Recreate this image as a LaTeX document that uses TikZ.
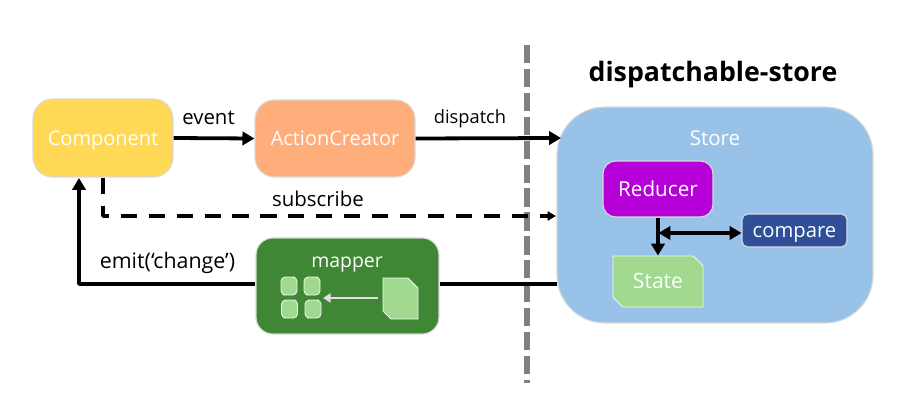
\documentclass[tikz,border=0pt]{standalone}
\usepackage{fontspec}
\setmainfont{Open Sans}
\usetikzlibrary{shapes.misc,arrows.meta}
\definecolor{compcol}{HTML}{FFD955}
\definecolor{actioncol}{HTML}{FFAD7A}
\definecolor{storecol}{HTML}{99C2E8}
\definecolor{reducercol}{HTML}{B500D8}
\definecolor{comparecol}{HTML}{2F5099}
\definecolor{statecol}{HTML}{A0D98F}
\definecolor{mappercol}{HTML}{3F8734}
\tikzset{
    box/.style={draw=black!15, line width=.8pt, rounded corners=14pt, text=white, inner sep=0pt, text height=13pt, text depth=3pt, font=\fontsize{14.2}{16}\selectfont},
    flow/.style={->, line width=2.7pt},
    lbl/.style={inner sep=0pt, font=\fontsize{14.5}{17}\selectfont},
    doc/.style={draw=white!85!statecol, fill=statecol, line width=.6pt},
}
\begin{document}
\begin{tikzpicture}[>={Stealth[inset=0pt,length=8.5pt,width=9.5pt]}, x=.025cm, y=-.025cm, line join=round]
    \useasboundingbox (0,0) rectangle (908,414);
    \draw[line width=4.3pt, black!50, dash pattern=on 13pt off 4pt] (527,45)--(527,383);
    % boxes
    \node[box, fill=compcol, minimum width=99.5pt, minimum height=55.5pt] (comp) at (103,138) {Component};
    \node[box, fill=actioncol, minimum width=113.8pt, minimum height=54.8pt] (action) at (335,138.5) {ActionCreator};
    \node[box, fill=storecol, rounded corners=34pt, minimum width=224.7pt, minimum height=153.6pt] (store) at (715,215) {};
    \node[box, fill=reducercol, rounded corners=9pt, minimum width=78.2pt, minimum height=39.8pt, font=\fontsize{14.7}{16}\selectfont] (reducer) at (658,189) {Reducer};
    \node[box, fill=comparecol, rounded corners=4pt, minimum width=74.6pt, minimum height=23.4pt, font=\fontsize{14.4}{16}\selectfont] (compare) at (794.5,230.5) {compare};
    \node[chamfered rectangle, chamfered rectangle corners={north east,south west}, doc, text=white, inner sep=0pt, text height=13pt, text depth=3pt, minimum width=64pt, minimum height=36.3pt, chamfered rectangle xsep=3.5pt, chamfered rectangle ysep=3.5pt, font=\fontsize{15}{16}\selectfont] (state) at (658,281.5) {State};
    \node[box, fill=mappercol, rounded corners=12pt, minimum width=130.1pt, minimum height=68.3pt] (mapper) at (347.5,286) {};
    \node[text=white, inner sep=0pt, text height=13pt, text depth=3pt, font=\fontsize{13.8}{16}\selectfont] (mapperlbl) at (347,260) {mapper};
    % mapper icons
    \draw[doc] (383,278) -- (408,278) -- (418,288) -- (418,319) -- (391,319) -- (383,311) -- cycle;
    \foreach \px/\py in {281/277,304/277,281.5/300,305/300}
    \draw[doc, rounded corners=1pt] (\px,\py) -- (\px+12,\py) [rounded corners=3pt] -- (\px+16,\py) -- (\px+16,\py+18) [rounded corners=1pt] -- (\px+4,\py+18) [rounded corners=3pt] -- (\px,\py+18) -- cycle;
    % free ends
    \coordinate (storein) at (561,138);
    \coordinate (storesub) at (556,216);
    \coordinate (storeout) at (557,284);
    \coordinate (compin) at (79,178);
    \coordinate (mapperin) at (378,298);
    \coordinate (pieces) at (323,298);
    % connectors
    \draw[flow] (comp.east) -- (action.west);
    \draw[flow] (action.east) -- (storein);
    \draw[flow, dash pattern=on 11.4pt off 8.5pt, -{Stealth[inset=0pt,length=6pt,width=6.5pt]}] (comp.south) |- (storesub);
    \draw[line width=2.7pt] (storeout) -- (mapper.east |- storeout);
    \draw[flow] (mapper.west |- storeout) -| (compin);
    \draw[flow] (reducer.south) -- (state.north);
    \draw[<->, line width=2.7pt] (658.5,233) -- (compare.west |- 658.5,233);
    \draw[-{Stealth[inset=0pt,length=5.5pt,width=6.5pt]}, line width=1.6pt, white!88!black] (mapperin) -- (pieces);
    % labels
    \node[lbl] (eventlbl) at (208.5,118) {event};
    \node[lbl, font=\fontsize{13}{15}\selectfont] (dispatchlbl) at (470,119) {dispatch};
    \node[lbl] (sublbl) at (318,199) {subscribe};
    \node[lbl, font=\fontsize{15.2}{17}\selectfont] (emitlbl) at (167.5,263) {emit(‘change’)};
    \node[text=white, inner sep=0pt, font=\fontsize{14.6}{16}\selectfont] (storelbl) at (715,138) {Store};
    \node[inner sep=0pt, font=\bfseries\fontsize{19}{22}\selectfont] (titlelbl) at (713,75) {dispatchable-store};
\end{tikzpicture}
\end{document}
